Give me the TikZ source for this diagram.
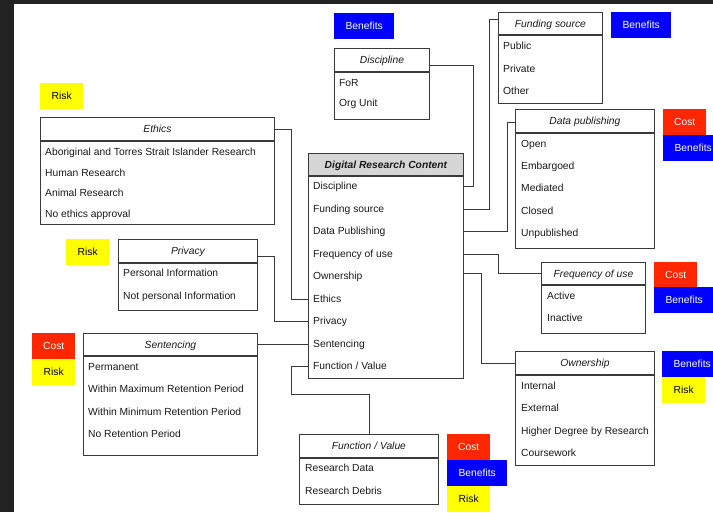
\documentclass[tikz,border=0pt]{standalone}
\usepackage{fontspec}
\setmainfont{Liberation Sans}
\definecolor{framec}{HTML}{222222}
\definecolor{linec}{HTML}{3A3A3A}
\definecolor{hdrgray}{HTML}{D6D6D6}
\definecolor{tagred}{HTML}{FF2600}
\definecolor{tagblue}{HTML}{0000FF}
\definecolor{tagyellow}{HTML}{FFFF00}
\definecolor{txt}{HTML}{1A1A1A}
\tikzset{
  every node/.style={font=\fontsize{10.3}{12}\selectfont, inner sep=0pt, text=txt},
  hdrbox/.style={draw=linec, line width=0.9pt, anchor=north west, text height=7.4pt, text depth=0pt, font=\fontsize{10.3}{12}\selectfont\itshape},
  bodybox/.style={draw=linec, line width=0.9pt, anchor=north west},
  item/.style={anchor=west, text height=7.4pt, text depth=0pt},
  conn/.style={draw=linec, line width=0.9pt},
  tagbase/.style={anchor=north west, minimum height=26pt, text height=7.4pt, text depth=0pt},
  costtag/.style={tagbase, fill=tagred, text=white, minimum width=43pt},
  bentag/.style={tagbase, fill=tagblue, text=white, minimum width=60pt},
  risktag/.style={tagbase, fill=tagyellow, text=black, minimum width=43pt},
}
\begin{document}
\begin{tikzpicture}[x=1pt,y=-1pt]
\useasboundingbox (0,0) rectangle (713,512);
\clip (0,0) rectangle (713,512);
\fill[white] (0,0) rectangle (713,512);
\fill[framec] (0,0) rectangle (713,4);
\fill[framec] (0,0) rectangle (14,512);

% ---------- Digital Research Content ----------
\node[hdrbox, fill=hdrgray, minimum width=155pt, minimum height=22pt, font=\fontsize{10.3}{12}\selectfont\bfseries\itshape] (drcH) at (308,153) {Digital Research Content};
\node[bodybox, minimum width=155pt, minimum height=202pt] (drc) at (drcH.south west) {};
\node[item] (rDisc) at (313,186) {Discipline};
\node[item] (rFund) at (313,209) {Funding source};
\node[item] (rData) at (313,231) {Data Publishing};
\node[item] (rFreq) at (313,254) {Frequency of use};
\node[item] (rOwn)  at (313,276) {Ownership};
\node[item] (rEth)  at (313,299) {Ethics};
\node[item] (rPriv) at (313,321) {Privacy};
\node[item] (rSent) at (313,344) {Sentencing};
\node[item] (rFunc) at (313,366) {Function / Value};

% ---------- Discipline ----------
\node[hdrbox, minimum width=95pt, minimum height=23pt] (discH) at (334,48) {Discipline};
\node[bodybox, minimum width=95pt, minimum height=47pt] (disc) at (discH.south west) {};
\node[item] at (339,83) {FoR};
\node[item] at (339,103) {Org Unit};

% ---------- Funding source ----------
\node[hdrbox, minimum width=104pt, minimum height=22pt] (fundH) at (498,12) {Funding source};
\node[bodybox, minimum width=104pt, minimum height=68pt] (fund) at (fundH.south west) {};
\node[item] at (503,46) {Public};
\node[item] at (503,69) {Private};
\node[item] at (503,91) {Other};

% ---------- Data publishing ----------
\node[hdrbox, minimum width=139pt, minimum height=23pt] (dataH) at (515,109) {Data publishing};
\node[bodybox, minimum width=139pt, minimum height=115pt] (data) at (dataH.south west) {};
\node[item] at (521,144) {Open};
\node[item] at (521,166) {Embargoed};
\node[item] at (521,188) {Mediated};
\node[item] at (521,211) {Closed};
\node[item] at (521,233) {Unpublished};

% ---------- Frequency of use ----------
\node[hdrbox, minimum width=104pt, minimum height=22pt] (freqH) at (541,262) {Frequency of use};
\node[bodybox, minimum width=104pt, minimum height=48pt] (freq) at (freqH.south west) {};
\node[item] at (547,296) {Active};
\node[item] at (547,318) {Inactive};

% ---------- Ownership ----------
\node[hdrbox, minimum width=139pt, minimum height=23pt] (ownH) at (515,351) {Ownership};
\node[bodybox, minimum width=139pt, minimum height=90pt] (own) at (ownH.south west) {};
\node[item] at (521,386) {Internal};
\node[item] at (521,408) {External};
\node[item] at (521,431) {Higher Degree by Research};
\node[item] at (521,453) {Coursework};

% ---------- Ethics ----------
\node[hdrbox, minimum width=234pt, minimum height=23pt] (ethH) at (40,117) {Ethics};
\node[bodybox, minimum width=234pt, minimum height=83pt] (eth) at (ethH.south west) {};
\node[item] at (45,152) {Aboriginal and Torres Strait Islander Research};
\node[item] at (45,173) {Human Research};
\node[item] at (45,193) {Animal Research};
\node[item] at (45,214) {No ethics approval};

% ---------- Privacy ----------
\node[hdrbox, minimum width=139pt, minimum height=23pt] (privH) at (118,239) {Privacy};
\node[bodybox, minimum width=139pt, minimum height=47pt] (priv) at (privH.south west) {};
\node[item] at (123,273) {Personal Information};
\node[item] at (123,296) {Not personal Information};

% ---------- Sentencing ----------
\node[hdrbox, minimum width=174pt, minimum height=22pt] (sentH) at (83,333) {Sentencing};
\node[bodybox, minimum width=174pt, minimum height=99pt] (sent) at (sentH.south west) {};
\node[item] at (88,367) {Permanent};
\node[item] at (88,389) {Within Maximum Retention Period};
\node[item] at (88,412) {Within Minimum Retention Period};
\node[item] at (88,434) {No Retention Period};

% ---------- Function / Value ----------
\node[hdrbox, minimum width=139pt, minimum height=23pt] (funcH) at (299,434) {Function / Value};
\node[bodybox, minimum width=139pt, minimum height=46pt] (func) at (funcH.south west) {};
\node[item] at (305,468) {Research Data};
\node[item] at (305,491) {Research Debris};

% ---------- Tags ----------
\node[bentag] (tB1) at (334,13) {Benefits};
\node[bentag] (tB2) at (611,12) {Benefits};
\node[risktag] (tR1) at (40,83) {Risk};
\node[costtag] (tC3) at (663,109) {Cost};
\node[bentag] (tB3) at (663,135) {Benefits};
\node[risktag] (tR2) at (66,239) {Risk};
\node[costtag] (tC4) at (32,333) {Cost};
\node[risktag] (tR4) at (32,359) {Risk};
\node[costtag] (tC5) at (654,262) {Cost};
\node[bentag] (tB5) at (654,287) {Benefits};
\node[bentag] (tB6) at (662,351) {Benefits};
\node[risktag] (tR6) at (662,377) {Risk};
\node[costtag] (tC7) at (447,434) {Cost};
\node[bentag] (tB7) at (447,460) {Benefits};
\node[risktag] (tR7) at (447,486) {Risk};

% ---------- Connectors ----------
\draw[conn] ([yshift=-5.5pt]discH.east) -- ++(44,0) |- (rDisc -| drc.east);
\draw[conn] (rFund -| drc.east) -- ++(26,0) |- ([yshift=4pt]fundH.west);
\draw[conn] (rData -| drc.east) -- ++(44,0) |- ([yshift=-1.5pt]dataH.west);
\draw[conn] (rFreq -| drc.east) -- ++(35,0) |- (freqH.west);
\draw[conn] ([yshift=3pt]rOwn -| drc.east) -- ++(18,0) |- (ownH.west);
\draw[conn] (ethH.east) -- ++(17,0) |- (rEth -| drc.west);
\draw[conn] ([yshift=-5.5pt]privH.east) -- ++(17,0) |- (rPriv -| drc.west);
\draw[conn] (sentH.east) -- (sentH.east -| drc.west);
\draw[conn] (rFunc -| drc.west) -- ++(-17,0) -- ++(0,28) -| (funcH.north);
\end{tikzpicture}
\end{document}
